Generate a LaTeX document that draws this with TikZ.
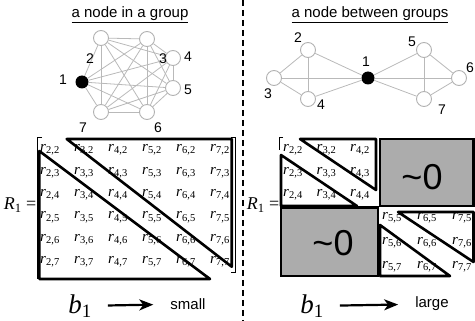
\documentclass[tikz,border=0pt]{standalone}
\usepackage{fontspec}
\setmainfont{Liberation Serif}[ItalicFont={Liberation Serif Italic}]
\setsansfont{Liberation Sans}
\usetikzlibrary{arrows.meta}
\tikzset{
  vertex/.style={circle, draw=gray!60, fill=white, line width=0.9pt, minimum size=15pt, inner sep=0pt},
  hub/.style={circle, fill=black, minimum size=13pt, inner sep=0pt},
  link/.style={draw=gray!55, line width=0.8pt},
  num/.style={inner sep=0pt, font=\fontsize{14}{14}\sffamily},
  heading/.style={inner sep=0pt, font=\fontsize{15}{15}\sffamily},
  entry/.style={inner sep=0pt, font=\fontsize{15}{15}\selectfont},
  matname/.style={inner sep=0pt, font=\fontsize{18}{18}\selectfont},
  coeff/.style={inner sep=0pt, font=\fontsize{27}{27}\selectfont},
  outcome/.style={inner sep=0pt, font=\fontsize{15}{15}\sffamily},
  nearzero/.style={inner sep=0pt, font=\fontsize{36}{36}\sffamily},
  band/.style={line width=2.6pt, line join=round},
  bracket/.style={line width=0.8pt},
  zeroblock/.style={draw=black, fill=gray!65, line width=2.6pt},
  pointer/.style={-{Stealth[length=14pt, width=11pt, inset=4pt]}, line width=2.2pt, shorten <=16pt, shorten >=17pt},
  divider/.style={line width=2pt, dash pattern=on 6pt off 4pt}
}
\newcommand{\rent}[2]{\textit{r}\textsubscript{#1,#2}}

\begin{document}
\begin{tikzpicture}[x=1pt, y=-1pt]
  \useasboundingbox (0,0) rectangle (475,321);
  \draw[divider] (243,0) -- (243,321);

  % a node in a group
  \node[heading] (headin) at (130,15) {\underline{a node in a group}};
  \node[hub]    (g1) at (82,82) {};
  \node[vertex] (g2) at (101,38) {};
  \node[vertex] (g3) at (147,39) {};
  \node[vertex] (g4) at (173,58) {};
  \node[vertex] (g5) at (173,88) {};
  \node[vertex] (g6) at (147,112) {};
  \node[vertex] (g7) at (101,112) {};
  \foreach \a/\b in {g1/g2,g1/g3,g1/g4,g1/g5,g1/g6,g1/g7,g2/g3,g2/g4,g2/g5,g2/g6,g2/g7,
                     g3/g4,g3/g5,g3/g6,g3/g7,g4/g5,g4/g6,g4/g7,g5/g6,g5/g7,g6/g7}
    \draw[link] (\a) -- (\b);
  \node[num] (gl1) at (63,80)  {1};
  \node[num] (gl2) at (90,59)  {2};
  \node[num] (gl3) at (163,59) {3};
  \node[num] (gl4) at (188,57) {4};
  \node[num] (gl5) at (188,90) {5};
  \node[num] (gl6) at (158,128) {6};
  \node[num] (gl7) at (83,128) {7};

  \node[matname] (rin) at (20,205) {\textit{R}\textsubscript{1} =};
  \foreach \i in {2,...,7}
    \foreach \j in {2,...,7}
      \node[entry] (p\i\j) at ({50+34*(\i-2)},{150+22.4*(\j-2)}) {\rent{\i}{\j}};
  \draw[band] (66.7,139) -- (231.7,139) -- (231.7,266.7) -- cycle;
  \draw[band] (39.3,151) -- (39.3,279) -- (210,279) -- cycle;
  \draw[bracket] (42,137.5) -- (37.5,137.5) -- (37.5,279);
  \draw[bracket] (231,137.5) -- (235.5,137.5) -- (235.5,272) -- (231,272);

  \node[coeff] (bin) at (80,306) {\textit{b}\textsubscript{1}};
  \node[outcome] (small) at (188,304) {small};
  \draw[pointer] (bin) -- (small);

  % a node between groups
  \node[heading] (headbetween) at (370,15) {\underline{a node between groups}};
  \node[hub]    (h1) at (368,78) {};
  \node[vertex] (h2) at (308,50) {};
  \node[vertex] (h3) at (274,78) {};
  \node[vertex] (h4) at (308,99) {};
  \node[vertex] (h5) at (424,50) {};
  \node[vertex] (h6) at (459,78) {};
  \node[vertex] (h7) at (424,99) {};
  \foreach \a/\b in {h1/h2,h1/h3,h1/h4,h2/h3,h2/h4,h3/h4,h1/h5,h1/h6,h1/h7,h5/h6,h5/h7,h6/h7}
    \draw[link] (\a) -- (\b);
  \node[num] (hl1) at (366,62)  {1};
  \node[num] (hl2) at (298,38)  {2};
  \node[num] (hl3) at (268,94)  {3};
  \node[num] (hl4) at (321,105) {4};
  \node[num] (hl5) at (412,42)  {5};
  \node[num] (hl6) at (470,68)  {6};
  \node[num] (hl7) at (442,110) {7};

  \node[matname] (rbetween) at (263,205) {\textit{R}\textsubscript{1} =};
  \draw[zeroblock] (380,139) rectangle (473.5,206);
  \draw[zeroblock] (281,207.5) rectangle (378,276);
  \node[nearzero] (zup)  at (422,177) {\textasciitilde0};
  \node[nearzero] (zlow) at (333,243) {\textasciitilde0};
  \foreach \i in {2,3,4}
    \foreach \j in {2,3,4}
      \node[entry] (q\i\j) at ({293+33.5*(\i-2)},{150+22.5*(\j-2)}) {\rent{\i}{\j}};
  \foreach \i in {5,6,7}
    \foreach \j in {5,6,7}
      \node[entry] (q\i\j) at ({392+35*(\i-5)},{218+24.5*(\j-5)}) {\rent{\i}{\j}};
  \draw[band] (300,139) -- (376,139) -- (376,190) -- cycle;
  \draw[band] (281,155) -- (281,206) -- (357,206) -- cycle;
  \draw[band] (398,212) -- (473.5,212) -- (473.5,262) -- cycle;
  \draw[band] (380,225) -- (380,276) -- (450,276) -- cycle;
  \draw[bracket] (283,137.5) -- (279,137.5) -- (279,150);

  \node[coeff] (bbetween) at (312,306) {\textit{b}\textsubscript{1}};
  \node[outcome] (large) at (432,304) {large};
  \draw[pointer] (bbetween) -- (large);
\end{tikzpicture}
\end{document}
